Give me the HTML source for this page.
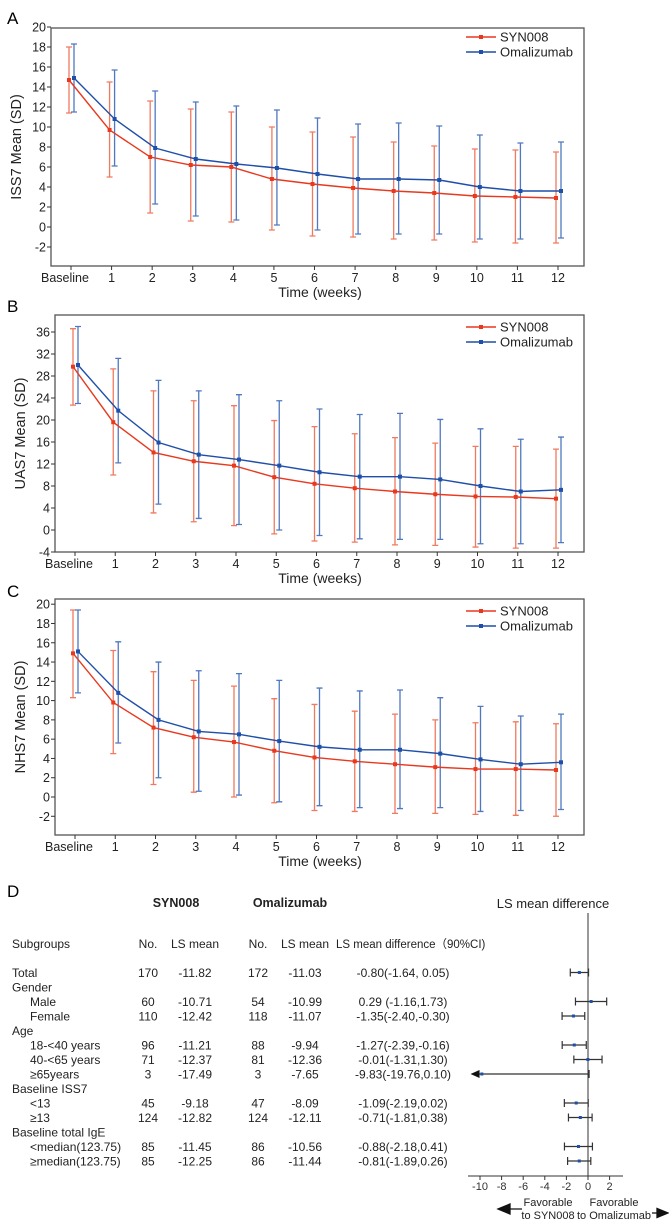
<!DOCTYPE html>
<html><head><meta charset="utf-8"><style>
html,body{margin:0;padding:0;background:#fff;}
svg{display:block;font-family:"Liberation Sans",Arial,sans-serif;}
</style></head><body>
<svg id="fig" width="669" height="1223" viewBox="0 0 669 1223" xmlns="http://www.w3.org/2000/svg">
<text x="7" y="24" font-size="17">A</text>
<text x="7" y="312" font-size="17">B</text>
<text x="7" y="597" font-size="17">C</text>
<text x="7" y="897" font-size="17">D</text>
</svg>
<script>
const weeks = ["Baseline","1","2","3","4","5","6","7","8","9","10","11","12"];
// Panel A ISS7
const aSynMean = [14.7,9.7,7.0,6.2,6.0,4.8,4.3,3.9,3.6,3.4,3.1,3.0,2.9];
const aSynUp   = [18.0,14.5,12.6,11.8,11.5,10.0,9.5,9.0,8.5,8.1,7.8,7.7,7.5];
const aSynLo   = [11.4,5.0,1.4,0.6,0.5,-0.3,-0.9,-1.0,-1.2,-1.3,-1.5,-1.6,-1.6];
const aOmaMean = [14.9,10.8,7.9,6.8,6.3,5.9,5.3,4.8,4.8,4.7,4.0,3.6,3.6];
const aOmaUp   = [18.3,15.7,13.6,12.5,12.1,11.7,10.9,10.3,10.4,10.1,9.2,8.4,8.5];
const aOmaLo   = [11.5,6.1,2.3,1.1,0.7,0.2,-0.3,-0.7,-0.7,-0.7,-1.2,-1.2,-1.1];
const aTicks = [20,18,16,14,12,10,8,6,4,2,0,-2];
// Panel B UAS7
const bSynMean = [29.7,19.6,14.1,12.5,11.7,9.6,8.4,7.6,7.0,6.5,6.1,6.0,5.7];
const bSynUp   = [36.6,29.3,25.3,23.5,22.6,19.9,18.8,17.5,16.8,15.8,15.2,15.2,14.7];
const bSynLo   = [22.7,10.0,3.1,1.5,0.8,-0.7,-2.0,-2.2,-2.7,-2.8,-3.1,-3.3,-3.3];
const bOmaMean = [30.0,21.7,15.9,13.7,12.8,11.7,10.5,9.7,9.7,9.2,8.0,7.0,7.3];
const bOmaUp   = [37.0,31.2,27.2,25.3,24.6,23.5,22.0,21.0,21.2,20.1,18.4,16.5,16.9];
const bOmaLo   = [23.0,12.2,4.7,2.1,1.0,0.0,-1.0,-1.6,-1.7,-1.7,-2.5,-2.5,-2.3];
const bTicks = [36,32,28,24,20,16,12,8,4,0,-4];
// Panel C NHS7
const cSynMean = [14.9,9.8,7.2,6.2,5.7,4.8,4.1,3.7,3.4,3.1,2.9,2.9,2.8];
const cSynUp   = [19.4,15.2,13.0,12.1,11.5,10.2,9.6,8.9,8.6,8.0,7.7,7.8,7.6];
const cSynLo   = [10.3,4.5,1.3,0.5,0.0,-0.6,-1.4,-1.5,-1.7,-1.7,-1.8,-1.9,-2.0];
const cOmaMean = [15.1,10.8,8.0,6.8,6.5,5.8,5.2,4.9,4.9,4.5,3.9,3.4,3.6];
const cOmaUp   = [19.4,16.1,14.0,13.1,12.8,12.1,11.3,11.0,11.1,10.3,9.4,8.4,8.6];
const cOmaLo   = [10.8,5.6,2.0,0.6,0.2,-0.5,-0.9,-1.1,-1.2,-1.1,-1.5,-1.4,-1.3];
const cTicks = [20,18,16,14,12,10,8,6,4,2,0,-2];
// Panel D forest
const subgroups = ["Total","Gender","Male","Female","Age","18-<40 years","40-<65 years","\u226565years","Baseline ISS7","<13","\u226513","Baseline total IgE","<median(123.75)","\u2265median(123.75)"];
const indent = [0,0,1,1,0,1,1,1,0,1,1,0,1,1];
const synN = ["170","","60","110","","96","71","3","","45","124","","85","85"];
const synLS = ["-11.82","","-10.71","-12.42","","-11.21","-12.37","-17.49","","-9.18","-12.82","","-11.45","-12.25"];
const omaN = ["172","","54","118","","88","81","3","","47","124","","86","86"];
const omaLS = ["-11.03","","-10.99","-11.07","","-9.94","-12.36","-7.65","","-8.09","-12.11","","-10.56","-11.44"];
const diffTxt = ["-0.80(-1.64, 0.05)","","0.29 (-1.16,1.73)","-1.35(-2.40,-0.30)","","-1.27(-2.39,-0.16)","-0.01(-1.31,1.30)","-9.83(-19.76,0.10)","","-1.09(-2.19,0.02)","-0.71(-1.81,0.38)","","-0.88(-2.18,0.41)","-0.81(-1.89,0.26)"];
const est = [-0.80,null,0.29,-1.35,null,-1.27,-0.01,-9.83,null,-1.09,-0.71,null,-0.88,-0.81];
const ciLo = [-1.64,null,-1.16,-2.40,null,-2.39,-1.31,-19.76,null,-2.19,-1.81,null,-2.18,-1.89];
const ciHi = [0.05,null,1.73,-0.30,null,-0.16,1.30,0.10,null,0.02,0.38,null,0.41,0.26];
const forestTicks = [-10,-8,-6,-4,-2,0,2];

const NS="http://www.w3.org/2000/svg";
const svg=document.getElementById('fig');
function mk(tag,attrs,parent,text){const e=document.createElementNS(NS,tag);for(const k in attrs)e.setAttribute(k,attrs[k]);if(text!==undefined)e.textContent=text;(parent||svg).appendChild(e);return e;}
const RED="#e8391f", BLUE="#1f4fa8", REDL="#f07a5f", BLUEL="#4f78c0";

function panel(p){
  const g=mk('g',{});
  
  
  const y=v=>p.y0 - v*p.k;
  const x=i=>p.xb + i*(p.xe-p.xb)/12;
  const box=mk('rect',{x:p.L,y:p.T,width:584-p.L,height:p.B-p.T,fill:'none',stroke:'#555','stroke-width':1.3},g);
  
  
  p.ticks.forEach(t=>{
    mk('line',{x1:p.L-4,x2:p.L,y1:y(t),y2:y(t),stroke:'#333'},g);
    const tx=mk('text',{x:p.L-5,y:y(t)+4.5,'font-size':12.5,'text-anchor':'end',fill:'#222'},g,t);
    
    
  });
  weeks.forEach((w,i)=>{
    mk('line',{x1:x(i),x2:x(i),y1:p.B,y2:p.B+4,stroke:'#333'},g);
    const tx=mk('text',{x:x(i)+(i==0?-6:0),y:p.B+16,'font-size':12.5,'text-anchor':'middle',fill:'#222'},g,w);
    
    
  });
  const xt=mk('text',{x:320,y:p.B+31,'font-size':14,'text-anchor':'middle',fill:'#222'},g,'Time (weeks)');
  
  
  const yc=(p.T+p.B)/2;
  const yt=mk('text',{x:0,y:0,'font-size':14.5,'text-anchor':'middle',fill:'#222',transform:`translate(${p.L-30},${yc}) rotate(-90)`},g,p.ylab);
  
  
  const series=[[p.sm,p.su,p.sl,RED,REDL,-2,'syn008'],[p.om,p.ou,p.ol,BLUE,BLUEL,3,'omalizumab']];
  series.forEach(([m,u,l,c,cl,off,nm])=>{
    m.forEach((v,i)=>{
      const xx=x(i)+off;
      const e=mk('path',{d:`M${xx},${y(u[i])}V${y(l[i])}M${xx-3},${y(u[i])}H${xx+3}M${xx-3},${y(l[i])}H${xx+3}`,stroke:cl,'stroke-width':1.3,fill:'none'},g);
      
      
    });
  });
  series.forEach(([m,u,l,c,cl,off,nm])=>{
    const pl=mk('polyline',{points:m.map((v,i)=>`${x(i)+off},${y(v)}`).join(' '),fill:'none',stroke:c,'stroke-width':1.4},g);
    
    
    m.forEach((v,i)=>{
      const pt=mk('rect',{x:x(i)+off-2,y:y(v)-2,width:4,height:4,fill:c},g);
      
      
    });
  });
  const lg=mk('g',{},g);
  
  
  [[RED,'SYN008',p.ly],[BLUE,'Omalizumab',p.ly+15]].forEach(([c,t,yy])=>{
    mk('line',{x1:466,x2:496,y1:yy,y2:yy,stroke:c,'stroke-width':1.4},lg);
    mk('rect',{x:479,y:yy-2,width:4,height:4,fill:c},lg);
    const lt=mk('text',{x:500,y:yy+4.5,'font-size':13,fill:'#222'},lg,t);
    
    
  });
}
panel({name:'iss7',L:51,T:28,B:266,y0:227,k:10,xb:71,xe:558,ticks:aTicks,ylab:'ISS7 Mean (SD)',sm:aSynMean,su:aSynUp,sl:aSynLo,om:aOmaMean,ou:aOmaUp,ol:aOmaLo,ly:37});
panel({name:'uas7',L:55,T:315,B:552,y0:530,k:5.5,xb:75,xe:558,ticks:bTicks,ylab:'UAS7 Mean (SD)',sm:bSynMean,su:bSynUp,sl:bSynLo,om:bOmaMean,ou:bOmaUp,ol:bOmaLo,ly:327});
panel({name:'nhs7',L:55,T:599,B:835,y0:797,k:9.64,xb:75,xe:558,ticks:cTicks,ylab:'NHS7 Mean (SD)',sm:cSynMean,su:cSynUp,sl:cSynLo,om:cOmaMean,ou:cOmaUp,ol:cOmaLo,ly:611});

// Panel D table
const tg=mk('g',{});


function T(x,y,t,opt,name){const e=mk('text',Object.assign({x:x,y:y,'font-size':12,fill:'#222'},opt||{}),tg,t);

return e;}
T(176,907,'SYN008',{'text-anchor':'middle','font-weight':'bold','font-size':12.5},'syn008-header');
T(290,907,'Omalizumab',{'text-anchor':'middle','font-weight':'bold','font-size':12.5},'omalizumab-header');
T(12,948,'Subgroups',{},'subgroups-header');
T(148,948,'No.',{'text-anchor':'middle'},'no-header');
T(195,948,'LS mean',{'text-anchor':'middle'},'ls-mean-header');
T(258,948,'No.',{'text-anchor':'middle'},'no-header');
T(305,948,'LS mean',{'text-anchor':'middle'},'ls-mean-header');
T(336,948,'LS mean difference\uFF0890%CI)',{'font-size':11.5},'ls-diff-header');
const rowY=i=>977+i*14.5;
subgroups.forEach((s,i)=>{
  T(indent[i]?30:12,rowY(i),s,{},'subgroup-label');
  if(synN[i]){
    T(148,rowY(i),synN[i],{'text-anchor':'middle'},'syn008-n');
    T(195,rowY(i),synLS[i],{'text-anchor':'middle'},'syn008-ls-mean');
    T(258,rowY(i),omaN[i],{'text-anchor':'middle'},'omalizumab-n');
    T(305,rowY(i),omaLS[i],{'text-anchor':'middle'},'omalizumab-ls-mean');
    T(403,rowY(i),diffTxt[i],{'text-anchor':'middle'},'ls-mean-difference');
  }
});
// Forest plot
const fg=mk('g',{});


const fx=v=>588+v*10.8;
const ft=mk('text',{x:553,y:908,'font-size':13,'text-anchor':'middle',fill:'#222'},fg,'LS mean difference');


mk('line',{x1:fx(0),x2:fx(0),y1:913,y2:1176,stroke:'#333'},fg);
mk('line',{x1:468,x2:623,y1:1176,y2:1176,stroke:'#333'},fg);
forestTicks.forEach(t=>{
  mk('line',{x1:fx(t),x2:fx(t),y1:1176,y2:1180,stroke:'#333'},fg);
  const e=mk('text',{x:fx(t),y:1190,'font-size':11,'text-anchor':'middle',fill:'#333'},fg,t);
  
  
});
est.forEach((v,i)=>{
  if(v===null)return;
  const yy=rowY(i)-4.5;
  const lo=Math.max(ciLo[i],-10.6);
  const arrow=ciLo[i]<-10.6;
  let d=`M${fx(lo)},${yy}H${fx(ciHi[i])}M${fx(ciHi[i])},${yy-4}V${yy+4}`;
  if(!arrow)d+=`M${fx(lo)},${yy-4}V${yy+4}`;
  const e=mk('path',{d:d,stroke:'#333','stroke-width':1.2,fill:'none'},fg);
  
  
  if(arrow){const a=mk('path',{d:`M${fx(lo)-3},${yy}l9,-4v8z`,fill:'#111'},fg);
    
    }
  const p=mk('rect',{x:fx(v)-1.5,y:yy-1.5,width:3,height:3,fill:BLUE},fg);
  
  
});
[[548,'Favorable','to SYN008'],[614,'Favorable','to Omalizumab']].forEach(([xx,a,b])=>{
  const e=mk('text',{x:xx,y:1206,'font-size':11,'text-anchor':'middle',fill:'#222'},fg,a);
  
  
  const e2=mk('text',{x:xx,y:1219,'font-size':11,'text-anchor':'middle',fill:'#222'},fg,b);
  
  
});
const la=mk('path',{d:'M522,1209H508M498,1209l12,-5v10z',stroke:'#111','stroke-width':1.3,fill:'#111'},fg);


const ra=mk('path',{d:'M652,1213H658M668,1213l-11,-4.5v9z',stroke:'#111','stroke-width':1.3,fill:'#111'},fg);


</script>
</body></html>
